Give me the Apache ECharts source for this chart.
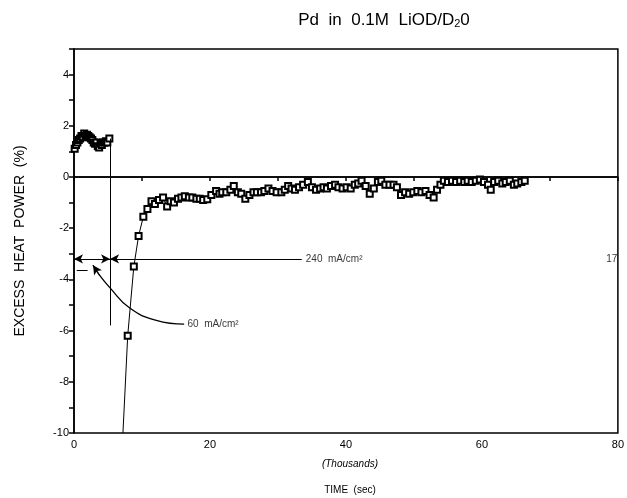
<!DOCTYPE html>
<html><head><meta charset="utf-8">
<script src="https://cdn.jsdelivr.net/npm/echarts@6/dist/echarts.min.js"></script>
<style>html,body{margin:0;padding:0;background:#fff}#c{width:627px;height:498px}</style>
</head><body><div id="c"></div>
<script>
// 60 mA/cm2 period
var t60 = [0.1,0.3,0.5,0.7,0.9,1.1,1.3,1.5,1.7,1.9,2.1,2.3,2.5,2.7,2.9,3.1,3.3,3.5,3.7,3.9,4.1,4.3,4.5,4.7,4.9,5.2];
var v60 = [1.1,1.25,1.35,1.45,1.5,1.6,1.55,1.7,1.6,1.65,1.6,1.55,1.5,1.45,1.35,1.3,1.35,1.2,1.15,1.3,1.25,1.35,1.35,1.4,1.35,1.5];
// 240 mA/cm2 period
var t240 = [7.2,7.9,8.8,9.5,10.2,10.8,11.4,11.9,12.5,13.1,13.7,14.2,14.7,15.3,15.8,16.3,16.9,17.4,18.0,18.5,19.0,19.6,20.2,20.9,21.4,21.8,22.4,23.0,23.5,24.1,24.6,25.2,25.8,26.4,26.9,27.5,28.0,28.6,29.2,29.8,30.5,31.0,31.5,32.0,32.5,33.1,33.7,34.4,35.0,35.6,36.2,36.7,37.2,37.8,38.4,38.9,39.5,40.1,40.7,41.3,41.8,42.3,42.9,43.5,44.1,44.7,45.2,45.8,46.4,47.0,47.5,48.1,48.7,49.3,49.9,50.5,51.1,51.7,52.3,52.9,53.4,53.9,54.4,55.0,55.6,56.2,56.8,57.4,57.9,58.5,59.1,59.7,60.3,60.9,61.3,61.8,62.4,63.0,63.5,64.1,64.7,65.2,65.8,66.3];
var v240 = [-10,-6.2,-3.5,-2.3,-1.55,-1.25,-0.95,-1.05,-0.9,-0.8,-1.15,-0.95,-1.0,-0.85,-0.8,-0.75,-0.8,-0.8,-0.85,-0.85,-0.9,-0.87,-0.7,-0.55,-0.65,-0.6,-0.6,-0.5,-0.35,-0.6,-0.65,-0.85,-0.7,-0.6,-0.6,-0.6,-0.55,-0.45,-0.55,-0.6,-0.6,-0.5,-0.35,-0.45,-0.5,-0.4,-0.3,-0.2,-0.4,-0.5,-0.45,-0.4,-0.45,-0.35,-0.3,-0.4,-0.45,-0.4,-0.45,-0.3,-0.25,-0.15,-0.35,-0.65,-0.45,-0.2,-0.15,-0.3,-0.3,-0.3,-0.4,-0.7,-0.6,-0.65,-0.6,-0.55,-0.6,-0.55,-0.7,-0.8,-0.5,-0.3,-0.15,-0.2,-0.15,-0.2,-0.15,-0.2,-0.15,-0.2,-0.15,-0.1,-0.2,-0.3,-0.5,-0.2,-0.15,-0.25,-0.2,-0.15,-0.3,-0.25,-0.2,-0.15];
var xTickLabels = [0,20,40,60,80];
var yTickLabels = [4,2,0,-2,-4,-6,-8,-10];

// annotation geometry in data units
var switchT = 5.3, switchTop = 1.5, switchBottom = -5.8;
var arrowV = -3.2, arrowEndT = 33.5;
var shortLine = [[0.4,-3.65],[2.0,-3.65]];
var curveT = [2.8,3.8,5.3,8.2,12.1,16.2];
var curveV = [-3.45,-3.85,-4.33,-5.12,-5.6,-5.75];

var FONT = 'Liberation Sans, Arial, sans-serif';
var data60 = t60.map(function(t,i){return [t,v60[i]];});
var data240 = t240.map(function(t,i){
  var p = {value:[t,v240[i]]};
  if (i === 0) p.symbol = 'none';
  return p;
});
var curveData = curveT.map(function(t,i){return [t,curveV[i]];});
var chart = echarts.init(document.getElementById('c'));
var ls = {color:'#000', width:1, type:'solid'};
chart.setOption({
  animation:false,
  backgroundColor:'#fff',
  textStyle:{fontFamily:FONT, color:'#000'},
  title:[
    {text:'Pd  in  0.1M  LiOD/D{s|2}0', left:379, top:7, textAlign:'center',
     textStyle:{fontFamily:FONT, fontSize:17, fontWeight:'normal', color:'#000',
       rich:{s:{fontSize:11, verticalAlign:'bottom', padding:[6,0,0,0], fontFamily:FONT, color:'#000'}}}},
    {text:'(Thousands)', left:345, top:454, textAlign:'center',
     textStyle:{fontFamily:FONT, fontSize:10, fontWeight:'normal', fontStyle:'italic', color:'#000'}},
    {text:'TIME  (sec)', left:345, top:480, textAlign:'center',
     textStyle:{fontFamily:FONT, fontSize:10, fontWeight:'normal', color:'#000'}}
  ],
  grid:{left:74, right:6, top:49, bottom:65, show:true, borderColor:'#000', borderWidth:1.5, backgroundColor:'transparent'},
  xAxis:{type:'value', min:0, max:80, interval:10,
    axisLine:{show:true, lineStyle:{color:'#000', width:1.5}},
    axisTick:{show:true, inside:false, length:4, lineStyle:{color:'#000', width:1.5}},
    axisLabel:{color:'#000', fontSize:11, fontFamily:FONT, margin:6,
      formatter:function(v){return xTickLabels.indexOf(v)>=0 ? String(v) : '';}},
    splitLine:{show:false}},
  yAxis:{type:'value', min:-10, max:5, interval:1,
    name:'EXCESS  HEAT  POWER  (%)', nameLocation:'middle', nameGap:47, nameRotate:90,
    nameTextStyle:{fontFamily:FONT, fontSize:14, color:'#000'},
    axisLine:{show:true, lineStyle:{color:'#000', width:1.5}},
    axisTick:{show:true, inside:false, length:5, lineStyle:{color:'#000', width:1.5}},
    axisLabel:{color:'#000', fontSize:11, fontFamily:FONT, margin:5,
      formatter:function(v){return yTickLabels.indexOf(v)>=0 ? String(v) : '';}},
    splitLine:{show:false}},
  series:[
    {type:'line', name:'60', data:data60, symbol:'emptyRect', symbolSize:6,
     lineStyle:ls, itemStyle:{color:'#000', borderWidth:0.9}, z:3,
     markLine:{silent:true, symbol:'none', label:{show:false}, animation:false,
       lineStyle:{color:'#000', width:1.5, type:'solid'},
       data:[
         [{coord:[0,0]},{coord:[80,0]}]
       ]}},
    {type:'line', name:'240', data:data240, symbol:'emptyRect', symbolSize:6,
     lineStyle:ls, itemStyle:{color:'#000', borderWidth:0.9}, z:3,
     markLine:{silent:true, label:{show:false}, animation:false, symbolSize:[7,9],
       lineStyle:{color:'#000', width:1, type:'solid'},
       data:[
         [{coord:[switchT,switchTop], symbol:'none'},{coord:[switchT,switchBottom], symbol:'none'}],
         [{coord:[0,arrowV], symbol:'arrow'},{coord:[switchT,arrowV], symbol:'arrow'}],
         [{coord:[switchT,arrowV], symbol:'arrow'},{coord:[arrowEndT,arrowV], symbol:'none'}],
         [{coord:shortLine[0], symbol:'none'},{coord:shortLine[1], symbol:'none'}],
         [{coord:curveData[1], symbol:'none'},{coord:curveData[0], symbol:'arrow'}]
       ]}},
    {type:'line', name:'curve', data:curveData, smooth:true, symbol:'none', silent:true,
     lineStyle:{color:'#000', width:1.3, type:'solid'}, z:2},
    {type:'scatter', name:'labels', symbolSize:0, silent:true,
     data:[
       {value:[arrowEndT+0.3, arrowV], label:{show:true, position:'right', distance:2, formatter:'240  mA/cm²', fontSize:10, color:'#000', fontFamily:FONT}},
       {value:[curveT[curveT.length-1]+0.2, curveV[curveV.length-1]], label:{show:true, position:'right', distance:2, formatter:'60  mA/cm²', fontSize:10, color:'#000', fontFamily:FONT}},
       {value:[79.1, arrowV], label:{show:true, position:'inside', formatter:'17', fontSize:10, color:'#000', fontFamily:FONT}}
     ]}
  ]
});
</script></body></html>
